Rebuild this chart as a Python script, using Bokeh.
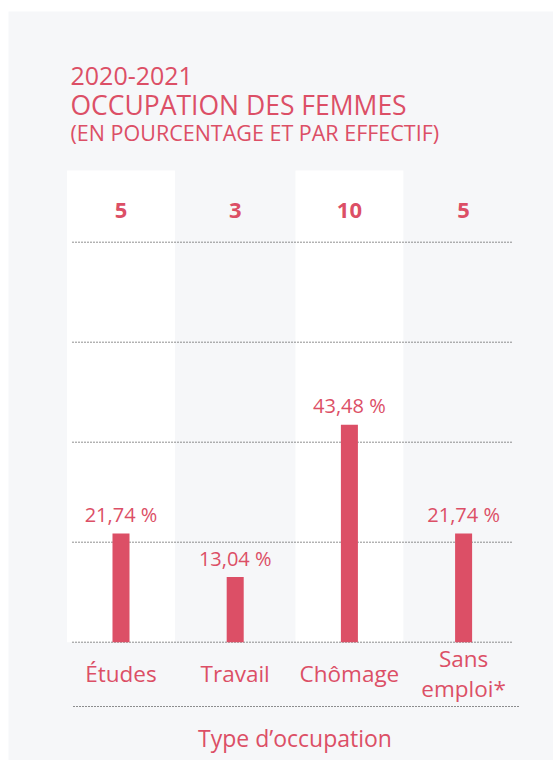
from bokeh.plotting import figure
from bokeh.models import ColumnDataSource, Range1d, Label
from bokeh.core.properties import value
from bokeh.embed import file_html
from bokeh.resources import INLINE

# ---- data ----
categories = ["Études", "Travail", "Chômage", "Sans\nemploi*"]
percentages = [21.74, 13.04, 43.48, 21.74]
counts = [5, 3, 10, 5]
grid_ticks = [0, 20, 40, 60, 80]
title_lines = ["2020-2021", "OCCUPATION DES FEMMES", "(EN POURCENTAGE ET PAR EFFECTIF)"]
axis_title = "Type d\u2019occupation"

# ---- style ----
RED = "#dc4f66"
BG = "#f6f7f9"
FONT = "Open Sans"
DOT = "#222222"

W, H = 553, 760
LEFT, TOP = 8, 11            # white page margin around the grey panel
SX = 114.2                   # px per category
SY = 5.0                     # px per percent
CX0 = 120.5                  # page x of first category center
Y0 = 641.7                   # page y of zero line

xs = -(CX0 - LEFT) / SX
xe = xs + (W - LEFT) / SX
ye = (Y0 - TOP) / SY
ys = ye - (H - TOP) / SY

p = figure(width=W, height=H, output_backend="svg", toolbar_location=None,
           x_range=Range1d(xs, xe), y_range=Range1d(ys, ye),
           x_axis_type=None, y_axis_type=None,
           min_border_left=LEFT, min_border_top=TOP, min_border_right=0, min_border_bottom=0)
p.background_fill_color = BG
p.border_fill_color = "white"
p.outline_line_color = None
p.grid.visible = False

xpos = list(range(len(categories)))
src = ColumnDataSource(dict(
    x=xpos,
    cat=categories,
    pct=percentages,
    pct_label=[f"{v:.2f}".replace(".", ",") + " %" for v in percentages],
    cnt=[str(c) for c in counts],
))

def py(page_y):
    return (Y0 - page_y) / SY

def px(page_x):
    return (page_x - CX0) / SX

# white column bands (every other category)
band_x = [x for x in xpos if x % 2 == 0]
p.vbar(x=band_x, width=0.945, bottom=0, top=py(170), fill_color="white", line_color=None)

# dotted grid lines
gx0, gx1 = px(72), px(513)
p.segment(x0=[gx0] * len(grid_ticks), x1=[gx1] * len(grid_ticks), y0=grid_ticks, y1=grid_ticks,
          line_color=DOT, line_width=1, line_dash="1 2")

# bars
p.vbar(x="x", top="pct", bottom=0, width=0.149, source=src, fill_color=RED, line_color=None)

# percentage labels
p.text(x="x", y="pct", text="pct_label", source=src, text_align="center", text_baseline="middle",
       y_offset=-19, text_font=value(FONT), text_font_size="20px", text_color=RED)

# counts
p.text(x="x", y=py(210), text="cnt", source=src, text_align="center", text_baseline="middle",
       text_font=value(FONT), text_font_size="22px", text_font_style="bold", text_color=RED)

# category labels
p.text(x="x", y=py(673), text="cat", source=src, text_align="center", text_baseline="middle",
       text_font=value(FONT), text_font_size="22.5px", text_color=RED, text_line_height=0.95)

# bottom dotted line
p.segment(x0=[px(73)], x1=[px(518)], y0=[py(706)], y1=[py(706)],
          line_color=DOT, line_width=1, line_dash="1 2")

# axis title
p.add_layout(Label(x=px(294.5), y=py(737), text=axis_title, text_align="center", text_baseline="middle",
                   text_font=FONT, text_font_size="23px", text_color=RED))

# titles
tx = px(70)
p.add_layout(Label(x=tx, y=py(75), text=title_lines[0], text_align="left", text_baseline="alphabetic",
                   text_font=FONT, text_font_size="25px", text_color=RED))
p.add_layout(Label(x=tx, y=py(104), text=title_lines[1], text_align="left", text_baseline="alphabetic",
                   text_font=FONT, text_font_size="26.5px", text_color=RED))
p.add_layout(Label(x=tx, y=py(132), text=title_lines[2], text_align="left", text_baseline="alphabetic",
                   text_font=FONT, text_font_size="21.5px", text_color=RED))

open("out.html", "w").write(file_html(p, INLINE))
